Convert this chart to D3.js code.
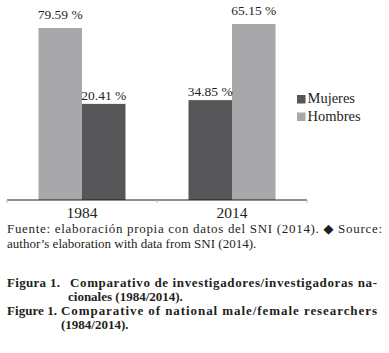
<!DOCTYPE html>
<html>
<head>
<meta charset="utf-8">
<script src="https://cdn.jsdelivr.net/npm/d3@7"></script>
<style>
  body { margin: 0; background: #fff; }
  svg text { font-family: "Liberation Serif", "DejaVu Serif", serif !important; fill: #231f20; }
</style>
</head>
<body>
<svg id="chart" width="389" height="353"></svg>
<script>
// categorias y series
var years = ["1984", "2014"];
var series = ["Mujeres", "Hombres"];
// orden de las barras dentro de cada grupo (como en la figura)
var barOrder = [["Hombres", "Mujeres"], ["Mujeres", "Hombres"]];
// porcentajes escritos sobre las barras
var mujeresLabel = [20.41, 34.85];
var hombresLabel = [79.59, 65.15];
// altura de las barras tal como se ve en la figura (escala 0-100)
var mujeresBar = [35.6, 37.0];
var hombresBar = [63.7, 65.2];

var colors = { Mujeres: "#575759", Hombres: "#a8a8aa" };
var labelGap = { Mujeres: 4, Hombres: 9 };
var serif = "'Liberation Serif', 'DejaVu Serif', serif";

var svg = d3.select("#chart").style("font-family", serif);

var x = d3.scaleBand().domain(years).range([7, 307]).padding(0);
var inner = d3.scaleBand().domain([0, 1]).range([0, x.bandwidth()]).paddingOuter(0.724).paddingInner(0);
var y = d3.scaleLinear().domain([0, 100]).range([200, -70]);

var rows = [];
years.forEach(function (yr, i) {
  barOrder[i].forEach(function (s, j) {
    rows.push({
      year: yr, serie: s, pos: j,
      bar: s === "Mujeres" ? mujeresBar[i] : hombresBar[i],
      label: s === "Mujeres" ? mujeresLabel[i] : hombresLabel[i]
    });
  });
});

// barras
svg.append("g").selectAll("rect").data(rows).join("rect")
  .attr("x", function (d) { return x(d.year) + inner(d.pos); })
  .attr("y", function (d) { return y(d.bar); })
  .attr("width", inner.bandwidth())
  .attr("height", function (d) { return y(0) - y(d.bar); })
  .attr("fill", function (d) { return colors[d.serie]; });

// etiquetas de valor
svg.append("g").selectAll("text").data(rows).join("text")
  .attr("x", function (d) { return x(d.year) + inner(d.pos) + inner.bandwidth() / 2; })
  .attr("y", function (d) { return y(d.bar) - labelGap[d.serie]; })
  .attr("text-anchor", "middle")
  .style("font-size", "13.5px")
  .text(function (d) { return d3.format(".2f")(d.label) + " %"; });

// eje x
var axis = svg.append("g")
  .attr("transform", "translate(0," + y(0) + ")")
  .call(d3.axisBottom(x).tickSize(0).tickPadding(5));
axis.attr("font-family", null);
axis.select(".domain").attr("stroke", "#231f20").attr("stroke-width", 1.2)
  .attr("d", "M" + x.range()[0] + ",0H" + x.range()[1]);
axis.selectAll(".tick text")
  .style("font-size", "15.5px")
  .attr("fill", "#231f20")
  .attr("dy", "0.85em");

// marcas entre grupos
var bounds = years.map(function (d) { return x(d); }).concat([x.range()[1]]);
svg.append("g").selectAll("line").data(bounds).join("line")
  .attr("x1", function (d) { return d; }).attr("x2", function (d) { return d; })
  .attr("y1", y(0)).attr("y2", y(0) + 3)
  .attr("stroke", "#bbb").attr("stroke-width", 1);

// leyenda
var legend = svg.append("g").attr("transform", "translate(297,95)");
var li = legend.selectAll("g").data(series).join("g")
  .attr("transform", function (d, i) { return "translate(0," + (i * 17.5) + ")"; });
li.append("rect").attr("width", 8.5).attr("height", 8.5)
  .attr("fill", function (d) { return colors[d]; });
li.append("text").attr("x", 10.5).attr("y", 8.3)
  .style("font-size", "14.5px")
  .text(function (d) { return d; });

// fuente
var src = svg.append("g").style("font-size", "13px");
src.append("text").attr("x", 7).attr("y", 233)
  .attr("textLength", 375).attr("lengthAdjust", "spacing")
  .text("Fuente: elaboración propia con datos del SNI (2014). \u25C6 Source:");
src.append("text").attr("x", 7).attr("y", 248)
  .text("author\u2019s elaboration with data from SNI (2014).");

// titulo de la figura
var cap = svg.append("g").style("font-size", "13px").style("font-weight", "bold");
cap.append("text").attr("x", 7).attr("y", 287)
  .attr("textLength", 53).attr("lengthAdjust", "spacing").text("Figura 1.");
cap.append("text").attr("x", 70).attr("y", 287)
  .attr("textLength", 307).attr("lengthAdjust", "spacing")
  .text("Comparativo de investigadores/investigadoras na-");
cap.append("text").attr("x", 68).attr("y", 301).text("cionales (1984/2014).");
cap.append("text").attr("x", 7).attr("y", 315)
  .attr("textLength", 50).attr("lengthAdjust", "spacing").text("Figure 1.");
cap.append("text").attr("x", 61).attr("y", 315)
  .attr("textLength", 316).attr("lengthAdjust", "spacing")
  .text("Comparative of national male/female researchers");
cap.append("text").attr("x", 61).attr("y", 329).text("(1984/2014).");
</script>
</body>
</html>
